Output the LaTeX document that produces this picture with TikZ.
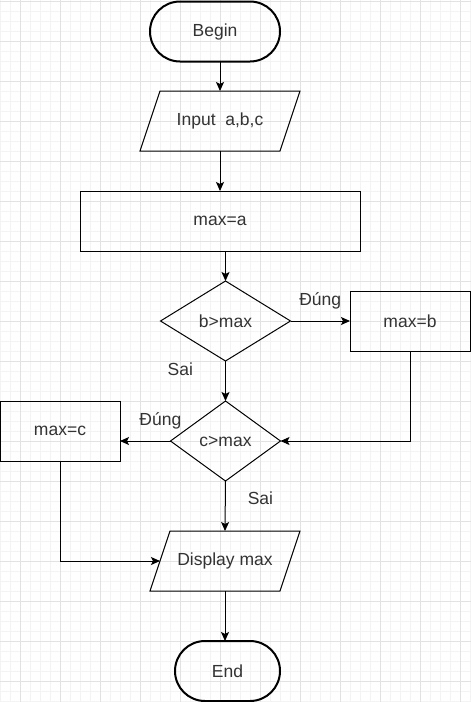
\documentclass[tikz,border=0pt]{standalone}
\usepackage{fontspec}
\setmainfont{Liberation Sans}
\usetikzlibrary{arrows.meta,shapes,positioning,calc}

\definecolor{gridmajor}{HTML}{E2E2E2}
\definecolor{gridminor}{HTML}{F3F3F3}
\definecolor{txtgray}{HTML}{333333}

\begin{document}
\begin{tikzpicture}[->,>={Stealth[length=9pt,width=8pt,inset=2pt]},x=1pt,y=-1pt,
line width=1pt,node distance=40pt,font=\fontsize{17.5}{21}\selectfont,text=txtgray]
\tikzstyle{term}=[rectangle,rounded corners=30pt,draw,line width=2pt,outer sep=0pt,
minimum width=130pt,minimum height=60pt]
\tikzstyle{io}=[rectangle,outer sep=0pt,minimum width=140pt,minimum height=60pt]
\tikzstyle{proc}=[rectangle,draw,outer sep=0pt,minimum width=120pt,minimum height=60pt]
\tikzstyle{cond}=[diamond,draw,outer sep=0pt,inner sep=0pt,
minimum width=130pt,minimum height=80pt]
\tikzstyle{lbl}=[inner sep=0pt]

\useasboundingbox (0,0) rectangle (471,702);
\fill[white] (0,0) rectangle (471,702);

% grid
\begin{scope}[-,line width=0.8pt]
\foreach \x in {0,10,...,470} \draw[gridminor] (\x,0) -- (\x,702);
\foreach \y in {1.7,11.7,...,701.7} \draw[gridminor] (0,\y) -- (471,\y);
\foreach \x in {20,60,...,460} \draw[gridmajor] (\x,0) -- (\x,702);
\foreach \y in {1.7,41.7,...,681.7} \draw[gridmajor] (0,\y) -- (471,\y);
\end{scope}

\node[term] (Begin) at (215,31.5) {Begin};

\node[io]
(Input) [below=29.5pt of Begin, xshift=5pt] {Input\ \ a,b,c};

\node[proc, minimum width=280pt]
(MaxA) [below=of Input] {max=a};

\node[cond]
(Cond1) [below=30pt of MaxA, xshift=5.5pt] {b>max};

\node[proc]
(MaxB) [right=59.5pt of Cond1] {max=b};

\node[cond, minimum width=110pt]
(Cond2) [below=of Cond1] {c>max};

\node[proc]
(MaxC) [left=50.5pt of Cond2, yshift=10pt] {max=c};

\node[io, minimum width=130pt]
(Display) [below=50pt of Cond2, xshift=-0.5pt] {Display max};

\node[term, minimum width=105pt]
(End) [below=50pt of Display, xshift=2.5pt] {End};

% parallelograms
\draw[-] ([xshift=10pt]Input.north west) -- ([xshift=10pt]Input.north east)
  -- ([xshift=-10pt]Input.south east) -- ([xshift=-10pt]Input.south west) -- cycle;
\draw[-] ([xshift=10pt]Display.north west) -- ([xshift=10pt]Display.north east)
  -- ([xshift=-10pt]Display.south east) -- ([xshift=-10pt]Display.south west) -- cycle;

\path (Begin.south -| Input.north) edge (Input.north);

\path (Input.south) edge (MaxA.north);

\path (MaxA.south -| Cond1.north) edge (Cond1.north);

\path (Cond1.east) edge node[lbl, above=11pt] {Đúng} (MaxB.west);

\path (Cond1.south) edge node[lbl, pos=0.2, left=32pt] {Sai} (Cond2.north);

\draw (MaxB.south) |- (Cond2.east);

\draw (Cond2.west) -- node[lbl, pos=0.2, above=11pt] {Đúng} (Cond2.west -| MaxC.east);

\path (Cond2.south) edge node[lbl, pos=0.35, right=22pt] {Sai} (Display.north);

\draw (MaxC.south) |- (Display.west);

\path (Display.south) edge (Display.south |- End.north);

\end{tikzpicture}
\end{document}
